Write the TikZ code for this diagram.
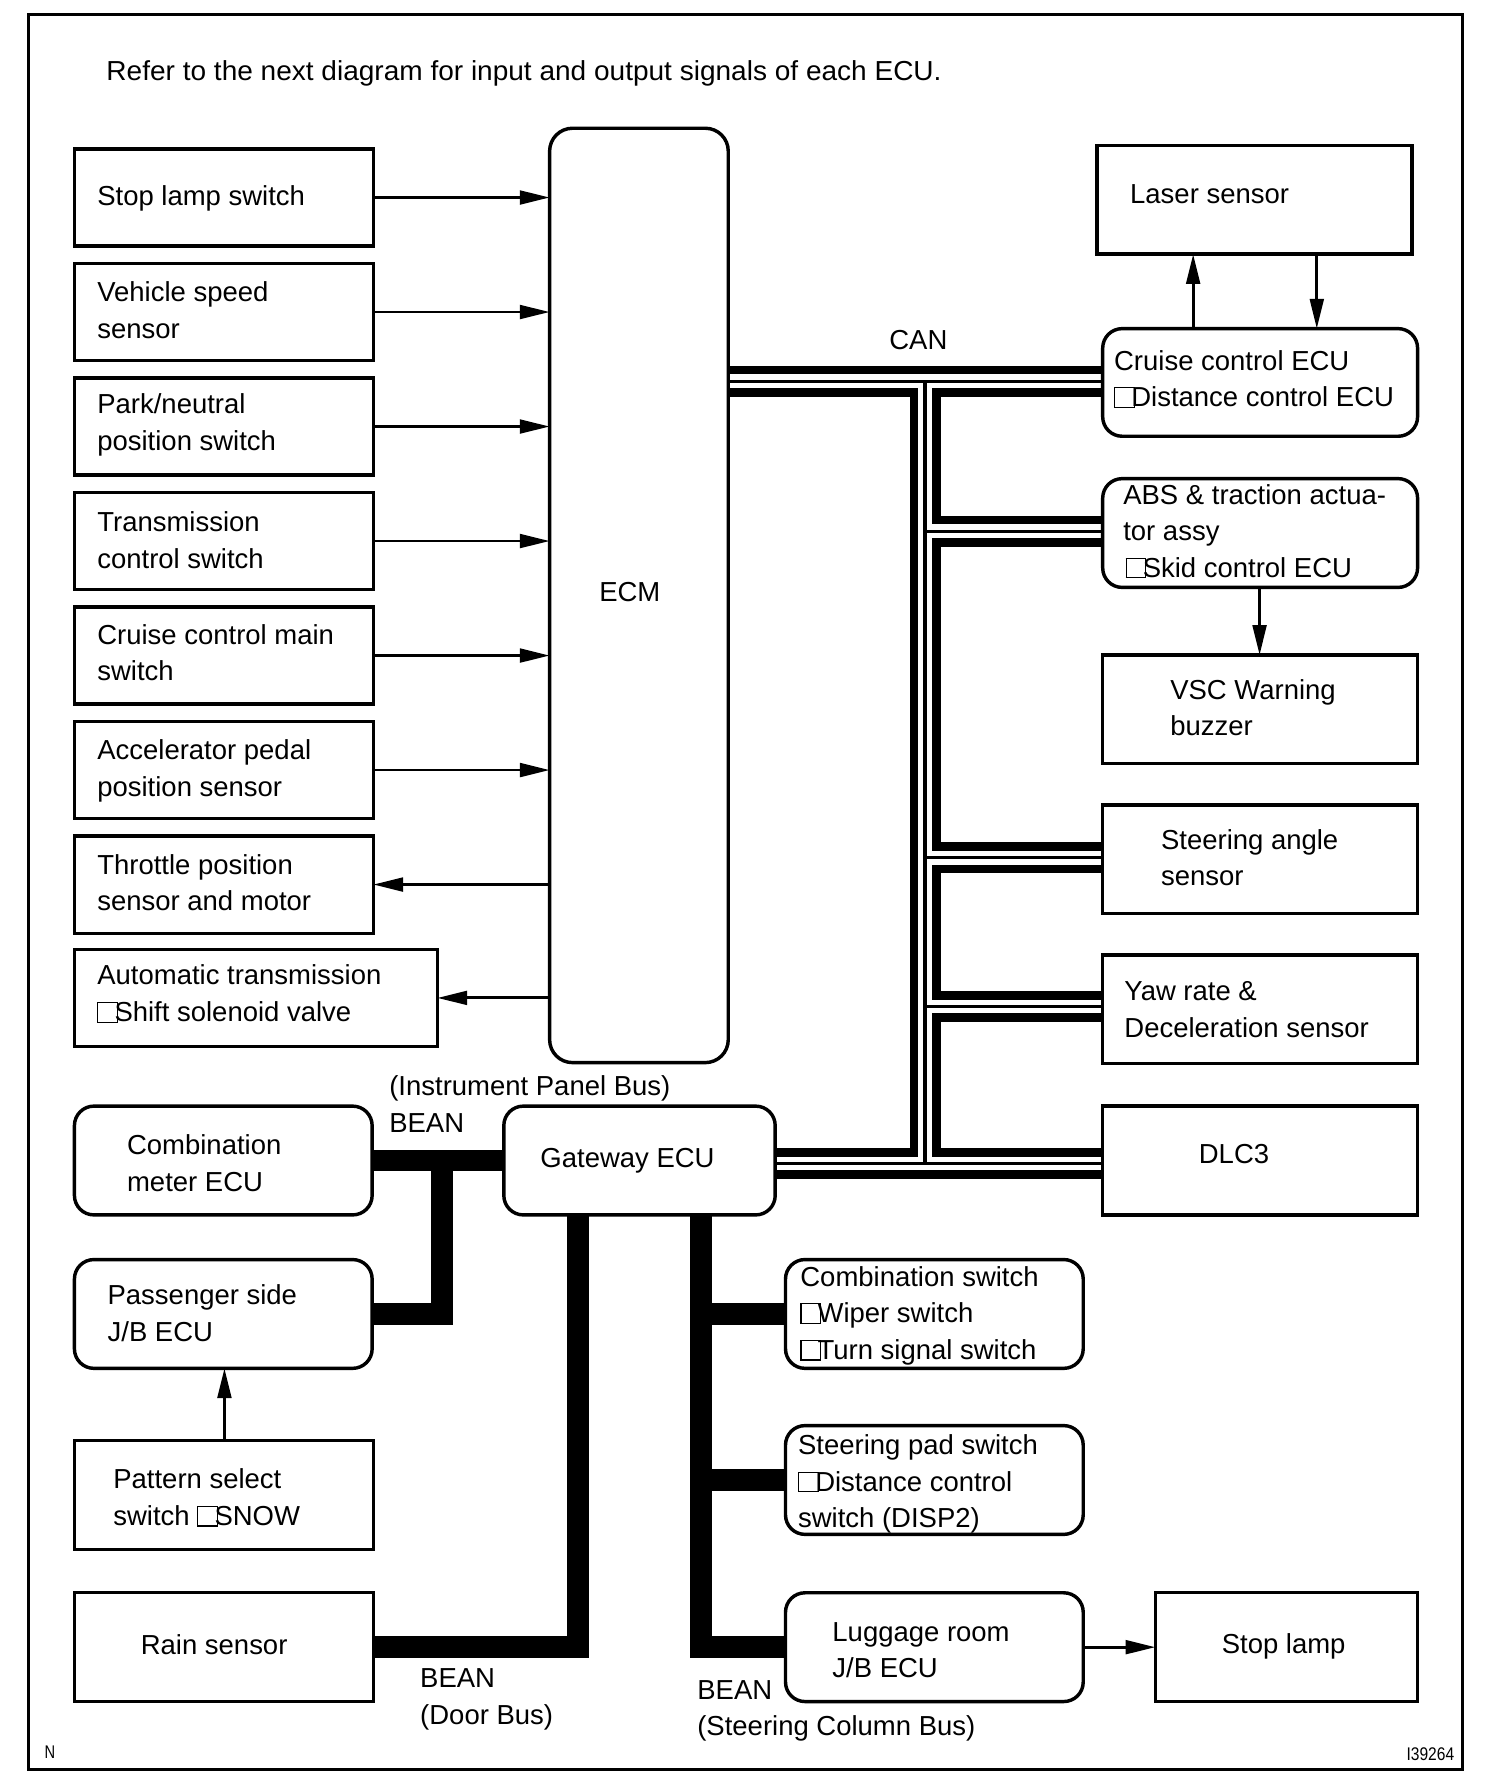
\documentclass[tikz,border=0pt]{standalone}
\usepackage{fontspec}
\setmainfont{Liberation Sans}
\usetikzlibrary{arrows.meta}
\pgfdeclarelayer{bg}
\pgfsetlayers{bg,main}
\newcommand\bx{{\setlength\fboxsep{0pt}\setlength\fboxrule{1pt}\fbox{\rule{0pt}{16pt}\hspace{16pt}}}\kern-3pt}
\newcommand\mkbox[6]{\node[#1,minimum width={(#5)-(#3)},minimum height={(#6)-(#4)},anchor=north west] (#2) at (#3,#4) {};}
\newcommand\canpaths[1]{%
  \draw[#1] (jt -| ecm.east) -- (jt -| cc.west);
  \draw[#1] (jt) -- (jb);
  \draw[#1] (ja) -- (ja -| abs.west);
  \draw[#1] (js) -- (js -| sa.west);
  \draw[#1] (jy) -- (jy -| yaw.west);
  \draw[#1] (jb -| gw.east) -- (jb -| dlc.west);
}
\begin{document}
\begin{tikzpicture}[x=1pt,y=-1pt,
  sbox/.style={draw,line width=3pt,rectangle,inner sep=0pt,outer sep=0pt},
  rbox/.style={sbox,rounded corners=17pt},
  txt/.style={inner sep=0pt,outer sep=0pt,align=left,anchor=west,font=\fontsize{24}{32}\selectfont},
  small/.style={inner sep=0pt,outer sep=0pt,font=\fontsize{16}{16}\selectfont},
  arr/.style={line width=2.5pt,-{Triangle[length=26pt,width=12pt]}},
  bean/.style={line width=19pt,line join=miter},
  canout/.style={line width=27pt},
  canin/.style={line width=12pt,white},
  canmid/.style={line width=3pt},
]
\useasboundingbox (0,0) rectangle (1313,1565);
\mkbox{sbox,line width=2.5pt}{frame}{25}{13}{1277}{1545}

\node[txt] (title) at (93,64) {\scalebox{1.02}[1]{Refer to the next diagram for input and output signals of each ECU.}};

% left input/output boxes
\mkbox{sbox}{s1}{65}{130}{326}{215}
\mkbox{sbox}{s2}{65}{230}{326}{315}
\mkbox{sbox}{s3}{65}{330}{326}{415}
\mkbox{sbox}{s4}{65}{430}{326}{515}
\mkbox{sbox}{s5}{65}{530}{326}{615}
\mkbox{sbox}{s6}{65}{630}{326}{715}
\mkbox{sbox}{s7}{65}{730}{326}{815}
\mkbox{sbox}{s8}{65}{829}{382}{914}
\node[txt] (t1) at (85,173) {Stop lamp switch};
\node[txt] (t2) at (85,271) {Vehicle speed\\sensor};
\node[txt] (t3) at (85,371) {Park/neutral\\position switch};
\node[txt] (t4) at (85,472) {Transmission\\control switch};
\node[txt] (t5) at (85,570) {Cruise control main\\switch};
\node[txt] (t6) at (85,673) {Accelerator pedal\\position sensor};
\node[txt] (t7) at (85,771) {Throttle position\\sensor and motor};
\node[txt] (t8) at (85,868) {Automatic transmission\\\bx Shift solenoid valve};

% ECM
\mkbox{sbox,rounded corners=20pt}{ecm}{480}{112}{636}{928}
\node[txt,anchor=center] (tecm) at (550,517) {ECM};

% right column
\mkbox{sbox}{ls}{958}{127}{1233}{222}
\mkbox{rbox}{cc}{963}{287}{1238}{381}
\mkbox{rbox}{abs}{963}{418}{1238}{513}
\mkbox{sbox}{vsc}{963}{572}{1238}{667}
\mkbox{sbox}{sa}{963}{703}{1238}{798}
\mkbox{sbox}{yaw}{963}{834}{1238}{929}
\mkbox{sbox}{dlc}{963}{966}{1238}{1061}
\node[txt] (tls) at (987,170) {Laser sensor};
\node[txt] (tcc) at (973,331) {Cruise control ECU\\\bx Distance control ECU};
\node[txt] (tabs) at (981,464) {ABS \& traction actua-\\tor assy\\\hspace{2pt}\bx Skid control ECU};
\node[txt] (tvsc) at (1022,618) {VSC Warning\\buzzer};
\node[txt] (tsa) at (1014,749) {Steering angle\\sensor};
\node[txt] (tyaw) at (982,882) {Yaw rate \&\\Deceleration sensor};
\node[txt] (tdlc) at (1047,1008) {DLC3};
\node[txt,anchor=center] (tcan) at (802,297) {CAN};

% lower part
\mkbox{rbox}{cm}{65}{966}{325}{1061}
\mkbox{rbox}{gw}{440}{966}{677}{1061}
\mkbox{rbox}{pj}{65}{1100}{325}{1195}
\mkbox{sbox}{ps}{65}{1258}{326}{1353}
\mkbox{sbox}{rs}{65}{1391}{326}{1486}
\mkbox{rbox}{cs}{686}{1100}{946}{1195}
\mkbox{rbox}{sp}{686}{1245}{946}{1340}
\mkbox{rbox}{lug}{686}{1391}{946}{1486}
\mkbox{sbox}{sl}{1009}{1391}{1238}{1486}
\node[txt] (tcm) at (111,1016) {Combination\\meter ECU};
\node[txt] (tgw) at (472,1014) {Gateway ECU};
\node[txt] (tpj) at (94,1147) {Passenger side\\J/B ECU};
\node[txt] (tps) at (99,1308) {Pattern select\\switch \bx SNOW};
\node[txt] (trs) at (123,1436) {Rain sensor};
\node[txt] (tcs) at (699,1149) {Combination switch\\\bx Wiper switch\\\bx Turn signal switch};
\node[txt] (tsp) at (697,1296) {Steering pad switch\\\bx Distance control\\switch (DISP2)};
\node[txt] (tlug) at (727,1441) {Luggage room\\J/B ECU};
\node[txt] (tsl) at (1067,1438) {Stop lamp};
\node[txt] (lip) at (340,964) {(Instrument Panel Bus)\\BEAN};
\node[txt] (ldoor) at (367,1484) {BEAN\\(Door Bus)};
\node[txt] (lsc) at (609,1494) {BEAN\\(Steering Column Bus)};
\node[small,anchor=west] (ln) at (39,1530) {\scalebox{0.8}[1]{N}};
\node[small,anchor=east] (lid) at (1270,1532) {\scalebox{0.85}[1]{I39264}};

% arrows
\draw[arr] (s1.east) -- (s1.east -| ecm.west);
\draw[arr] (s2.east) -- (s2.east -| ecm.west);
\draw[arr] (s3.east) -- (s3.east -| ecm.west);
\draw[arr] (s4.east) -- (s4.east -| ecm.west);
\draw[arr] (s5.east) -- (s5.east -| ecm.west);
\draw[arr] (s6.east) -- (s6.east -| ecm.west);
\draw[arr] (s7.east -| ecm.west) -- (s7.east);
\draw[arr] (s8.east -| ecm.west) -- (s8.east);
\coordinate (xu) at (1042,0);
\coordinate (xd) at (1150,0);
\coordinate (xv) at (1100,0);
\coordinate (xp) at (196,0);
\draw[arr] (cc.north -| xu) -- (ls.south -| xu);
\draw[arr] (ls.south -| xd) -- (cc.north -| xd);
\draw[arr] (abs.south -| xv) -- (vsc.north -| xv);
\draw[arr] (ps.north -| xp) -- (pj.south -| xp);
\draw[arr] (lug.east) -- (lug.east -| sl.west);

% buses
\coordinate (jt) at (808,333);
\coordinate (jb) at (808,1016);
\coordinate (ja) at (808,464);
\coordinate (js) at (808,749);
\coordinate (jy) at (808,879);
\coordinate (bj) at (386,1013.5);
\coordinate (bd) at (505,0);
\coordinate (bs) at (612,0);
\begin{pgfonlayer}{bg}
  \canpaths{canout}
  \canpaths{canin}
  \canpaths{canmid}
  \draw[bean] (gw.west) -- (cm.east);
  \draw[bean] (bj) |- (pj.east);
  \draw[bean] (gw.south -| bd) |- (rs.east);
  \draw[bean] (gw.south -| bs) |- (lug.west);
  \draw[bean] (bs |- cs.west) -- (cs.west);
  \draw[bean] (bs |- sp.west) -- (sp.west);
\end{pgfonlayer}
\end{tikzpicture}
\end{document}
